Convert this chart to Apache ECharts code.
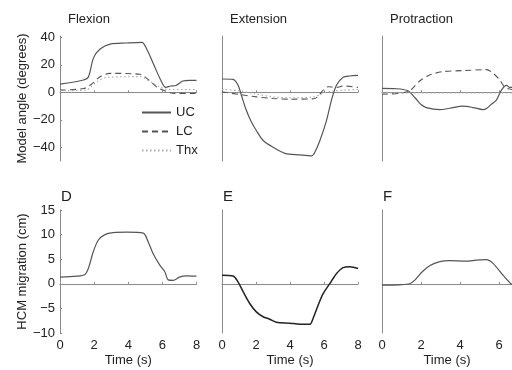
<!DOCTYPE html>
<html>
<head>
<meta charset="utf-8">
<script src="https://cdn.jsdelivr.net/npm/echarts@6/dist/echarts.min.js"></script>
<style>
  html, body { margin: 0; padding: 0; background: #fff; }
  #chart { width: 512px; height: 370px; }
</style>
</head>
<body>
<div id="chart"></div>
<script>
// panel titles
const panelTitles = ['Flexion', 'Extension', 'Protraction']
const panelLetters = ['D', 'E', 'F']
const angleTicks = [-40, -20, 0, 20, 40]
const hcmTicks = [-10, -5, 0, 5, 10, 15]
const timeTicks = [0, 2, 4, 6, 8]

// Flexion (model angle, degrees)
const flexUcT = [0, 1.37, 1.67, 1.96, 2.35, 2.94, 3.9, 4.8, 5.1, 5.5, 5.9, 6.2, 6.5, 6.8, 7.2, 7.6, 8]
const flexUc = [6.0, 9.0, 11.4, 24.9, 31.5, 35.1, 35.9, 36.4, 31.0, 20.0, 9.0, 3.6, 4.6, 5.0, 8.2, 8.7, 8.7]
const flexLcT = [0, 1.4, 1.86, 2.35, 2.94, 4.7, 5.2, 5.7, 6.3, 6.7, 8]
const flexLc = [1.6, 2.8, 6.0, 11.4, 13.8, 13.1, 9.0, 3.6, 0.4, -0.8, -0.8]
const flexThxT = [0, 1.5, 2.15, 2.75, 4.7, 5.3, 5.9, 6.3, 8]
const flexThx = [1.1, 1.6, 7.7, 10.9, 11.4, 7.7, 3.6, 2.1, 2.1]

// Extension
const extUcT = [0, 0.65, 0.94, 1.14, 1.43, 1.73, 2.02, 2.42, 3.0, 3.7, 4.58, 5.27, 5.46, 5.76, 6.15, 6.44, 6.74, 7.13, 7.5, 8]
const extUc = [9.7, 9.4, 5.3, -2.1, -13.1, -21.6, -27.8, -35.1, -40, -44.4, -45.6, -46.3, -43.6, -35.1, -20.4, -5.7, 5.3, 10.9, 11.9, 12.4]
const extLcT = [0, 1.04, 2, 3, 4, 5.4, 5.66, 5.95, 6.25, 6.74, 7.13, 8]
const extLc = [0.4, -1.6, -3.3, -4.5, -5, -4.7, -2.8, 1.6, 4.1, 3.6, 4.6, 3.6]
const extThxT = [0, 1.04, 2, 3, 4, 5.4, 5.95, 6.5, 8]
const extThx = [2.1, 1.1, -1.3, -3.3, -4, -3.3, -0.8, 0.9, 2.1]

// Protraction
const proUcT = [0, 0.74, 1.33, 1.68, 2.0, 2.27, 2.96, 3.47, 4.15, 4.67, 5.18, 5.35, 5.6, 5.86, 6.12, 6.38, 6.55, 7, 8]
const proUc = [2.8, 2.6, 1.1, -3.8, -8.9, -11.1, -12.6, -11.6, -10.1, -11.1, -12.6, -11.8, -8.7, -5.7, 1.6, 5.0, 3.6, 4, 4]
const proLcT = [0, 0.9, 1.42, 1.68, 2.0, 2.44, 3.13, 4.15, 5.35, 5.7, 6.03, 6.3, 6.65, 7, 8]
const proLc = [-1.3, -0.8, 1.1, 4.6, 9, 12.6, 15.1, 15.8, 16.5, 13.8, 9, 3.6, 2.1, 2, 2]
const proThxT = [0, 2, 4, 6, 8]
const proThx = [-0.4, -0.4, -0.4, -0.4, -0.4]

// HCM migration (cm)
const hcmDT = [0, 0.98, 1.46, 1.66, 1.95, 2.24, 2.63, 3.12, 3.9, 4.88, 5.17, 5.46, 5.85, 6.15, 6.34, 6.63, 7.0, 7.4, 8]
const hcmD = [1.35, 1.55, 1.9, 3.1, 6.5, 8.85, 10, 10.4, 10.5, 10.3, 8.5, 6.1, 3.8, 2.4, 0.8, 0.7, 1.35, 1.6, 1.55]
const hcmET = [0, 0.65, 0.94, 1.24, 1.63, 2.02, 2.42, 2.81, 3.2, 4, 4.58, 5.17, 5.36, 5.66, 5.95, 6.35, 6.74, 7.13, 7.52, 8]
const hcmE = [1.75, 1.6, 0.4, -1.6, -4, -5.7, -6.7, -7.2, -7.8, -8, -8.2, -8.2, -7, -4.3, -2, 0.07, 2.1, 3.3, 3.45, 3.1]
const hcmFT = [0, 0.9, 1.42, 1.68, 2.0, 2.44, 2.96, 3.47, 4.3, 4.84, 5.35, 5.7, 6.2, 6.65, 7, 8]
const hcmF = [-0.27, -0.2, 0, 0.75, 2.2, 3.65, 4.5, 4.7, 4.6, 4.8, 4.9, 4.1, 1.75, -0.1, -0.6, -0.8]

const font = 'Liberation Sans, Arial, sans-serif'
const axisColor = '#8a8a8a'
const minus = v => String(v).replace('-', '\u2212')
const pairs = (t, v) => t.map((x, i) => [x, v[i]])

// third column is cut by the right edge of the picture (same 19.5 px/s scale)
const gridLeft = [60, 222, 382]
const gridWidth = [136.5, 136, 130]
const xMax = [8, 8, 6.66]

const grids = []
const xAxes = []
const yAxes = []
for (let r = 0; r < 2; r++) {
  for (let c = 0; c < 3; c++) {
    const idx = r * 3 + c
    const yTicks = r === 0 ? angleTicks : hcmTicks
    const xTicks = timeTicks.filter(v => v <= xMax[c])
    grids.push({
      left: gridLeft[c], width: gridWidth[c], top: r === 0 ? 36 : 210, height: r === 0 ? 125 : 123,
      outerBoundsMode: 'none', containLabel: false
    })
    xAxes.push({
      type: 'value', gridIndex: idx, min: 0, max: xMax[c],
      name: r === 1 ? 'Time (s)' : '', nameLocation: 'middle', nameGap: 21,
      nameTextStyle: {fontFamily: font, fontSize: 13, color: '#222'},
      axisLine: {lineStyle: {color: axisColor, width: 1}},
      axisTick: {show: true, inside: true, length: 2, lineStyle: {color: axisColor}, customValues: xTicks},
      axisLabel: {show: r === 1, fontFamily: font, fontSize: 13, color: '#222', margin: 6, customValues: xTicks},
      splitLine: {show: false}
    })
    yAxes.push({
      type: 'value', gridIndex: idx,
      min: r === 0 ? -50 : -10, max: r === 0 ? 41 : 15,
      name: c === 0 ? (r === 0 ? 'Model angle (degrees)' : 'HCM migration (cm)') : '',
      nameLocation: 'middle', nameGap: 31, nameRotate: 90,
      nameTextStyle: {fontFamily: font, fontSize: 13, color: '#222'},
      axisLine: {show: true, lineStyle: {color: axisColor, width: 1}},
      axisTick: {show: c === 0, inside: true, length: 2, lineStyle: {color: axisColor}, customValues: yTicks},
      axisLabel: {
        show: c === 0, fontFamily: font, fontSize: 13, color: '#222', margin: 5,
        customValues: yTicks, formatter: v => minus(v)
      },
      splitLine: {show: false}
    })
  }
}

const solid = {type: 'line', symbol: 'none', smooth: 0.3, clip: true, lineStyle: {color: '#555', width: 1.2, type: 'solid'}, itemStyle: {color: '#555'}}
const dashed = {type: 'line', symbol: 'none', smooth: 0.3, clip: true, lineStyle: {color: '#555', width: 1.1, type: [6, 4]}, itemStyle: {color: '#555'}}
const dotted = {type: 'line', symbol: 'none', smooth: 0.3, clip: true, lineStyle: {color: '#aaa', width: 1.1, type: [1.5, 2.5]}, itemStyle: {color: '#aaa'}}
const mk = (base, name, i, t, v, extra) => Object.assign({}, base, {name: name, xAxisIndex: i, yAxisIndex: i, data: pairs(t, v)}, extra || {})

const series = [
  mk(solid, 'UC', 0, flexUcT, flexUc),
  mk(dashed, 'LC', 0, flexLcT, flexLc),
  mk(dotted, 'Thx', 0, flexThxT, flexThx),
  mk(solid, 'UC', 1, extUcT, extUc),
  mk(dashed, 'LC', 1, extLcT, extLc),
  mk(dotted, 'Thx', 1, extThxT, extThx),
  mk(solid, 'UC', 2, proUcT, proUc),
  mk(dashed, 'LC', 2, proLcT, proLc),
  mk(dotted, 'Thx', 2, proThxT, proThx),
  mk(solid, 'D', 3, hcmDT, hcmD),
  mk(solid, 'E', 4, hcmET, hcmE, {lineStyle: {color: '#222', width: 1.5}}),
  mk(solid, 'F', 5, hcmFT, hcmF, {lineStyle: {color: '#555', width: 1.2}})
]

const titles = panelTitles.map((t, i) => ({
  text: t, left: gridLeft[i] + 3, top: 8,
  textStyle: {fontFamily: font, fontSize: 13, fontWeight: 'normal', color: '#222'}
})).concat(panelLetters.map((t, i) => ({
  text: t, left: gridLeft[i] - 4, top: 184,
  textStyle: {fontFamily: font, fontSize: 15, fontWeight: 'normal', color: '#222'}
})))

const option = {
  animation: false,
  backgroundColor: '#fff',
  title: titles,
  legend: {
    data: ['UC', 'LC', 'Thx'], orient: 'vertical', left: 136, top: 101,
    itemWidth: 29, itemHeight: 12, itemGap: 6, itemStyle: {opacity: 0},
    textStyle: {fontFamily: font, fontSize: 13, color: '#222'}
  },
  grid: grids,
  xAxis: xAxes,
  yAxis: yAxes,
  series: series
}

echarts.init(document.getElementById('chart')).setOption(option)
</script>
</body>
</html>
